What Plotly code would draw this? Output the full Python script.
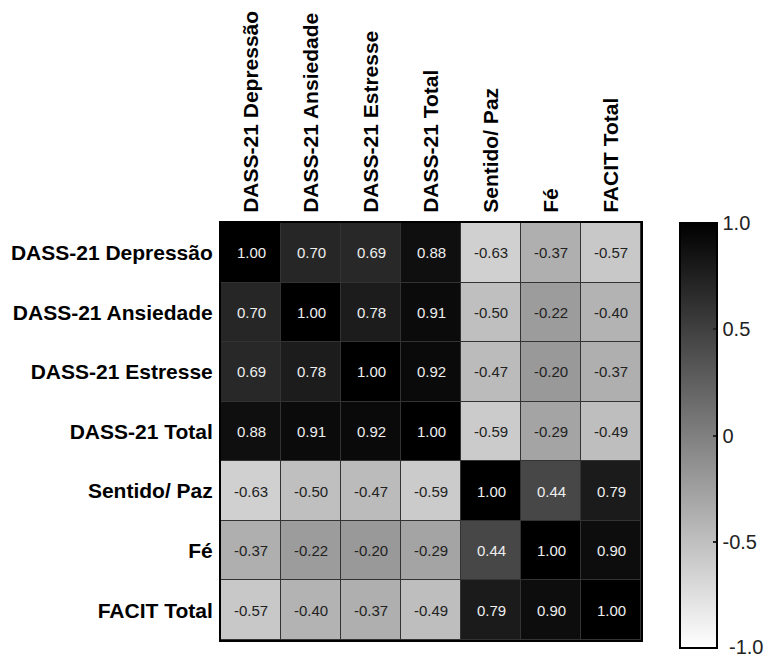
import plotly.graph_objects as go

# Variables (same order on both axes)
labels = ["DASS-21 Depressão", "DASS-21 Ansiedade", "DASS-21 Estresse",
          "DASS-21 Total", "Sentido/ Paz", "Fé", "FACIT Total"]

# Correlation matrix, one row per variable
r_depressao = [1.00, 0.70, 0.69, 0.88, -0.63, -0.37, -0.57]
r_ansiedade = [0.70, 1.00, 0.78, 0.91, -0.50, -0.22, -0.40]
r_estresse = [0.69, 0.78, 1.00, 0.92, -0.47, -0.20, -0.37]
r_dass_total = [0.88, 0.91, 0.92, 1.00, -0.59, -0.29, -0.49]
r_sentido = [-0.63, -0.50, -0.47, -0.59, 1.00, 0.44, 0.79]
r_fe = [-0.37, -0.22, -0.20, -0.29, 0.44, 1.00, 0.90]
r_facit = [-0.57, -0.40, -0.37, -0.49, 0.79, 0.90, 1.00]

cb_tickvals = [1.0, 0.5, 0.0, -0.5]
cb_ticktext = ["1.0", "0.5", "0", "-0.5"]
cb_bottom_label = "-1.0"

z = [r_depressao, r_ansiedade, r_estresse, r_dass_total, r_sentido, r_fe, r_facit]

FONT = "Arial, Liberation Sans, sans-serif"

# the page body has an 8px margin, so the figure is made 8px smaller
W, H = 764, 649
ML, MR, MT, MB = 213, 131, 215, 17
plot_w = W - ML - MR
plot_h = H - MT - MB
cb_left_px = 672
cb_len = 425
cb_x = (cb_left_px - ML) / plot_w

fig = go.Figure(go.Heatmap(
    z=z, x=labels, y=labels,
    zmin=-1, zmax=1,
    colorscale=[[0, "#ffffff"], [1, "#000000"]],
    xgap=1, ygap=1,
    hovertemplate="%{y} / %{x}: %{z:.2f}<extra></extra>",
    colorbar=dict(
        x=cb_x, xanchor="left", xpad=0,
        y=1, yanchor="top", ypad=0,
        lenmode="pixels", len=cb_len,
        thickness=37,
        outlinewidth=2, outlinecolor="black",
        tickvals=cb_tickvals, ticktext=cb_ticktext,
        ticks="inside", ticklen=5, tickwidth=2, tickcolor="#222",
        tickfont=dict(family=FONT, size=20, color="#222"),
    ),
))

# cell values
for row_label, row in zip(labels, z):
    for col_label, v in zip(labels, row):
        fig.add_annotation(x=col_label, y=row_label, text=f"{v:.2f}",
                           showarrow=False,
                           font=dict(family=FONT, size=15,
                                     color="#eeeeee" if v > 0.2 else "#222222"))

# bottom label of the colour bar (plotly drops the end label here)
fig.add_annotation(xref="paper", yref="paper",
                   x=(719 - ML) / plot_w, y=(plot_h - cb_len + 1) / plot_h,
                   xanchor="left", yanchor="middle", showarrow=False,
                   text=cb_bottom_label,
                   font=dict(family=FONT, size=20, color="#222"))

# small ticks on the left side of the colour bar too
for v in cb_tickvals[1:]:
    y_px = MT + (1 - v) / 2 * cb_len
    yp = (H - MB - y_px) / plot_h
    fig.add_shape(type="line", xref="paper", yref="paper",
                  x0=cb_x + 1 / plot_w, x1=cb_x + 6 / plot_w, y0=yp, y1=yp,
                  line=dict(color="#222", width=2))

fig.update_xaxes(side="top", tickangle=-90, showgrid=False, zeroline=False,
                 ticks="outside", ticklen=4, tickcolor="rgba(0,0,0,0)",
                 showline=True, mirror=True, linecolor="black", linewidth=2,
                 tickfont=dict(family=FONT, size=21, color="black"))
fig.update_yaxes(autorange="reversed", showgrid=False, zeroline=False,
                 ticks="outside", ticklen=2, tickcolor="rgba(0,0,0,0)",
                 showline=True, mirror=True, linecolor="black", linewidth=2,
                 tickfont=dict(family=FONT, size=21, color="black"))

fig.update_layout(
    width=W, height=H,
    margin=dict(l=ML, r=MR, t=MT, b=MB, autoexpand=False),
    plot_bgcolor="#333333",
    paper_bgcolor="white",
    font=dict(family=FONT),
)
fig.update_xaxes(tickprefix="<b>", ticksuffix="</b>")
fig.update_yaxes(tickprefix="<b>", ticksuffix="</b>")

fig.write_html("out.html")
